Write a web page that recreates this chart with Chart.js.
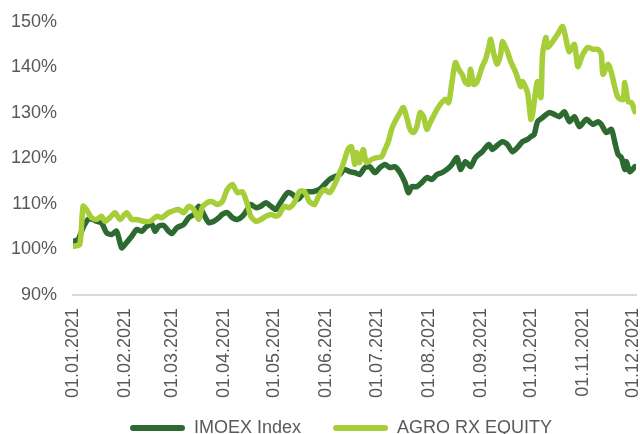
<!DOCTYPE html>
<html>
<head>
<meta charset="utf-8">
<script src="https://cdn.jsdelivr.net/npm/chart.js@4/dist/chart.umd.min.js"></script>
<style>
html,body{margin:0;padding:0;background:#fff;}
#wrap{width:640px;height:434px;position:relative;}
</style>
</head>
<body>
<div id="wrap"><canvas id="c" width="640" height="434"></canvas></div>
<script>
// Tick positions (days since 01.01.2021) and tick labels
const monthDays = [0,31,59,90,120,151,181,212,243,273,304,334];
const monthLabels = ['01.01.2021','01.02.2021','01.03.2021','01.04.2021','01.05.2021','01.06.2021','01.07.2021','01.08.2021','01.09.2021','01.10.2021','01.11.2021','01.12.2021'];
const yTicks = [90,100,110,120,130,140,150];
const seriesNames = ['IMOEX Index','AGRO RX EQUITY'];

// IMOEX Index (days since 01.01.2021, %)
const imoexDays = [0,3,6,9,12,14,17,20,23,26,29,31,35,38,41,44,47,49,51,54,57,59,62,66,69,72,75,78,81,84,87,89,92,95,98,101,104,106,109,112,115,118,121,123,128,131,134,137,140,143,147,150,153,156,159,162,165,168,171,174,177,180,183,186,189,192,195,198,200,202,205,208,211,214,217,220,223,226,229,231,234,237,240,244,248,250,253,256,259,262,265,268,271,273,275,277,280,284,287,290,293,296,299,302,306,310,313,315,318,321,323,325,327,329,330,332,335];
const imoexValues = [101.8,102.2,104.8,106.6,106.6,106.2,105.9,103.7,103.3,104.0,100.4,101.1,102.9,104.4,104.0,105.1,105.5,104.0,105.1,105.3,104.0,103.5,104.8,105.5,107.0,107.7,109.5,107.7,105.9,106.2,107.0,107.7,108.1,107.0,106.6,107.3,108.8,109.9,109.2,109.5,110.3,109.5,108.8,109.9,112.5,112.1,111.0,112.1,112.7,112.7,113.2,114.3,115.4,116.0,116.5,117.6,117.1,116.9,116.5,118.0,118.2,116.9,118.0,118.7,118.0,118.2,116.9,114.7,112.5,113.8,113.8,114.7,115.8,115.4,116.5,116.9,117.6,118.7,120.2,117.6,119.3,118.2,120.2,121.5,123.1,122.0,122.9,123.7,123.1,121.5,122.4,123.7,124.2,124.8,125.3,128.1,129.0,130.1,129.7,129.2,130.3,128.1,129.2,127.0,128.6,127.5,128.1,127.5,125.7,126.4,123.7,120.9,120.2,117.6,119.3,117.1,118.2];

// AGRO RX EQUITY (days since 01.01.2021, %)
const agroDays = [0,4,6,8,11,14,17,19,22,25,28,32,35,38,42,46,50,53,57,59,63,66,69,72,75,77,80,83,86,89,92,95,98,101,104,106,109,112,115,118,121,123,126,129,132,135,138,141,144,147,150,153,156,159,161,164,166,168,169,171,173,175,178,181,184,186,188,190,192,195,197,199,201,203,205,207,209,211,213,216,219,222,224,226,228,230,232,234,236,237,239,241,244,246,248,249,251,253,255,256,259,261,264,265,267,268,271,273,274,276,277,279,280,282,283,286,289,292,295,296,299,301,304,307,310,313,315,316,319,321,323,325,328,329,331,333,335];
const agroValues = [100.7,101.1,109.5,108.8,107.0,106.6,107.3,106.2,107.0,108.1,106.6,108.1,106.6,106.6,106.2,106.2,107.3,107.0,108.1,108.4,108.8,108.1,109.5,108.8,106.6,109.2,110.3,110.5,109.9,110.5,113.2,114.3,112.5,112.7,109.9,107.3,106.2,106.6,107.3,107.7,107.3,107.7,109.5,109.2,110.3,112.7,112.7,110.5,109.9,112.1,113.2,112.5,114.3,116.9,118.7,122.0,122.6,118.7,121.3,119.1,122.0,119.1,119.8,120.2,120.4,122.0,123.7,126.4,128.1,130.1,131.2,129.0,126.4,125.7,127.0,130.1,129.2,126.4,127.9,130.1,131.9,133.0,132.3,136.9,141.1,139.6,138.5,136.7,136.3,139.6,136.3,136.9,140.2,141.8,144.6,146.2,142.9,140.7,142.9,145.7,143.5,141.3,138.9,137.8,135.8,136.9,134.5,128.6,129.7,135.2,136.9,133.4,142.9,146.6,144.4,145.7,147.3,149.0,144.4,143.5,145.1,140.2,142.9,144.4,144.0,144.0,142.9,138.5,140.7,138.9,135.8,133.4,133.0,136.7,132.5,132.3,130.3];

const toPoints = (xs, ys) => xs.map((x, i) => ({ x: x, y: ys[i] }));
const FONT = "'Liberation Sans', Arial, sans-serif";
const TEXT = '#595959';
const DARK = '#2c6a31';
const LIGHT = '#a6ce39';

// place legend row: first swatch at x=130, text centred around y=428
const legendPlace = {
  id: 'legendPlace',
  afterLayout(chart) {
    const l = chart.legend;
    if (!l || !l.lineWidths) return;
    const p = l.options.labels.padding;
    const start = (l.left + p + l.right - l.lineWidths[0]) / 2;
    const dx = 130 - start;
    l.left += dx; l.right += dx;
    l.top = 419 - p;
    l.bottom = 434;
  }
};

new Chart(document.getElementById('c'), {
  type: 'line',
  data: {
    datasets: [
      { label: seriesNames[0], data: toPoints(imoexDays, imoexValues), borderColor: DARK, backgroundColor: DARK, borderWidth: 5.5, pointRadius: 0, tension: 0.25, borderJoinStyle: 'round', borderCapStyle: 'round', order: 1 },
      { label: seriesNames[1], data: toPoints(agroDays, agroValues), borderColor: LIGHT, backgroundColor: LIGHT, borderWidth: 5.5, pointRadius: 0, tension: 0.25, borderJoinStyle: 'round', borderCapStyle: 'round', order: 0 }
    ]
  },
  options: {
    responsive: false,
    animation: false,
    devicePixelRatio: 1,
    layout: { padding: { top: 22, right: 4, left: 0, bottom: 0 } },
    plugins: {
      tooltip: { enabled: false },
      legend: {
        position: 'bottom',
        maxHeight: 36,
        labels: {
          boxWidth: 55, boxHeight: 6, padding: 32, useBorderRadius: true, borderRadius: 3,
          color: TEXT, font: { family: FONT, size: 18 },
          generateLabels(chart) {
            return chart.data.datasets.map((ds, i) => ({
              text: ds.label, fillStyle: ds.borderColor, strokeStyle: ds.borderColor,
              lineWidth: 0, borderRadius: 3, fontColor: TEXT, hidden: false, datasetIndex: i
            }));
          }
        }
      }
    },
    scales: {
      x: {
        type: 'linear',
        min: 0,
        max: 335.7,
        afterBuildTicks(s) { s.ticks = monthDays.map(v => ({ value: v })); },
        afterFit(s) { s.paddingLeft = 0; s.paddingRight = 0; s.height = 103; },
        grid: { display: false, drawTicks: false },
        border: { display: true, color: '#d9d9d9', width: 2 },
        ticks: {
          autoSkip: false, maxRotation: 90, minRotation: 90, padding: 13,
          color: TEXT, font: { family: FONT, size: 18 },
          callback: (v, i) => monthLabels[i]
        }
      },
      y: {
        min: yTicks[0],
        max: yTicks[yTicks.length - 1],
        afterBuildTicks(s) { s.ticks = yTicks.map(v => ({ value: v })); },
        afterFit(s) { s.width = 73; s.paddingTop = 0; s.paddingBottom = 0; },
        grid: { display: false, drawTicks: false },
        border: { display: false },
        ticks: {
          padding: 16, color: TEXT, font: { family: FONT, size: 18 },
          callback: v => v + '%'
        }
      }
    }
  },
  plugins: [legendPlace]
});
</script>
</body>
</html>
